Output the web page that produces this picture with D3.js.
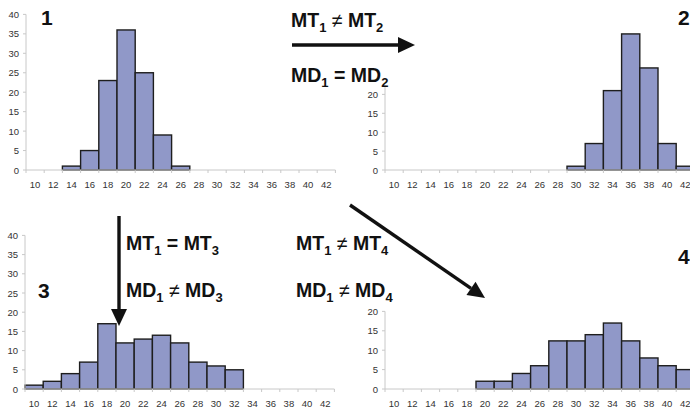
<!DOCTYPE html>
<html><head><meta charset="utf-8">
<script src="https://cdn.jsdelivr.net/npm/d3@7"></script>
<style>
html,body{margin:0;padding:0;background:#fff;overflow:hidden}
text{font-family:"Liberation Sans",Arial,sans-serif}
</style></head>
<body><svg id="c" width="690" height="409"></svg>
<script>
const categories = ["10","12","14","16","18","20","22","24","26","28","30","32","34","36","38","40","42"];
const values1 = [null,null,1,5,23,36,25,9,1,null,null,null,null,null,null,null,null];
const values2 = [null,null,null,null,null,null,null,null,null,null,1,7,21,36,27,7,1];
const values3 = [1,2,4,7,17,12,13,14,12,7,6,5,null,null,null,null,null];
const values4 = [null,null,null,null,null,2,2,4,6,12.4,12.4,14,17,12.4,8,6,5];
const yTicks1 = [0,5,10,15,20,25,30,35,40];
const yTicks2 = [0,5,10,15,20];
const panelNames = ["1","2","3","4"];

const svg = d3.select("#c");
const panels = [
  {vals: values1, x0: 26, y0: 170, ppu: 3.89, ticks: yTicks1, axTop: 40, name: panelNames[0], nx: 41, ny: 25},
  {vals: values2, x0: 385, y0: 170, ppu: 3.78, ticks: yTicks2, axTop: 22.5, name: panelNames[1], nx: 678, ny: 25},
  {vals: values3, x0: 25, y0: 389, ppu: 3.84, ticks: yTicks1, axTop: 40, name: panelNames[2], nx: 38, ny: 298},
  {vals: values4, x0: 385, y0: 389, ppu: 3.88, ticks: yTicks2, axTop: 20, name: panelNames[3], nx: 678, ny: 264}
];
const bw = 18.2;
panels.forEach(p => {
  const x = d3.scaleBand().domain(categories).range([p.x0, p.x0 + bw*categories.length]).padding(0);
  const y = d3.scaleLinear().domain([0, 40]).range([p.y0, p.y0 - 40*p.ppu]);
  const g = svg.append("g");
  g.selectAll("rect").data(categories.map((c,i)=>({c, v: p.vals[i]})).filter(d=>d.v!=null))
    .enter().append("rect")
    .attr("x", d=>x(d.c)).attr("width", x.bandwidth())
    .attr("y", d=>y(d.v)).attr("height", d=>y(0)-y(d.v))
    .attr("fill", "#9098c8").attr("stroke", "#1e1e1e").attr("stroke-width", 1.4);
  const xa = g.append("g").attr("transform", `translate(0,${p.y0})`);
  xa.append("line").attr("x1", p.x0).attr("x2", p.x0 + bw*categories.length).attr("stroke", "#c8c8c8");
  xa.selectAll("line.t").data(d3.range(categories.length+1)).enter().append("line").attr("class","t")
    .attr("x1", i=>p.x0+i*bw).attr("x2", i=>p.x0+i*bw).attr("y1",0).attr("y2",3).attr("stroke","#c8c8c8");
  xa.selectAll("text").data(categories).enter().append("text")
    .attr("x", d=>x(d)+x.bandwidth()/2).attr("y", 18).attr("text-anchor","middle")
    .attr("font-size", 9.5).attr("fill", "#333").text(d=>d);
  const ya = g.append("g");
  ya.append("line").attr("x1", p.x0).attr("x2", p.x0).attr("y1", y(0)).attr("y2", y(p.axTop)).attr("stroke","#c8c8c8");
  ya.selectAll("line.t").data(p.ticks).enter().append("line").attr("class","t")
    .attr("x1", p.x0-3).attr("x2", p.x0).attr("y1", d=>y(d)).attr("y2", d=>y(d)).attr("stroke","#c8c8c8");
  ya.selectAll("text").data(p.ticks).enter().append("text")
    .attr("x", p.x0-7).attr("y", d=>y(d)+3.5).attr("text-anchor","end")
    .attr("font-size", 9.5).attr("fill", "#333").text(d=>d);
  svg.append("text").attr("x", p.nx).attr("y", p.ny).attr("font-size", 21).attr("font-weight","bold").attr("fill","#111").text(p.name);
});

function formula(xp, yp, a, s1, op, b, s2){
  const t = svg.append("text").attr("x", xp).attr("y", yp).attr("font-size", 19.5).attr("font-weight","bold").attr("fill","#111");
  t.append("tspan").text(a);
  t.append("tspan").attr("font-size", 13).attr("dy", 5).text(s1);
  t.append("tspan").attr("dy", -5).attr("font-weight", op==="="?"bold":"normal").text(" " + op + " ");
  t.append("tspan").text(b);
  t.append("tspan").attr("font-size", 13).attr("dy", 5).text(s2);
}
formula(291, 27, "MT", "1", "≠", "MT", "2");
formula(291, 82, "MD", "1", "=", "MD", "2");
formula(126, 250, "MT", "1", "=", "MT", "3");
formula(126, 297, "MD", "1", "≠", "MD", "3");
formula(296, 250, "MT", "1", "≠", "MT", "4");
formula(296, 297, "MD", "1", "≠", "MD", "4");

function arrow(x1, y1, x2, y2){
  const ang = Math.atan2(y2-y1, x2-x1);
  const L = 17, W = 8;
  const bx = x2 - L*Math.cos(ang), by = y2 - L*Math.sin(ang);
  svg.append("line").attr("x1", x1).attr("y1", y1).attr("x2", bx).attr("y2", by)
    .attr("stroke", "#111").attr("stroke-width", 3.4);
  const px = -Math.sin(ang)*W, py = Math.cos(ang)*W;
  svg.append("path").attr("d", `M${x2},${y2}L${bx+px},${by+py}L${bx-px},${by-py}Z`).attr("fill", "#111");
}
arrow(292, 45, 415, 45);
arrow(119, 216, 119, 326);
arrow(350, 205, 485, 298);
</script></body></html>
